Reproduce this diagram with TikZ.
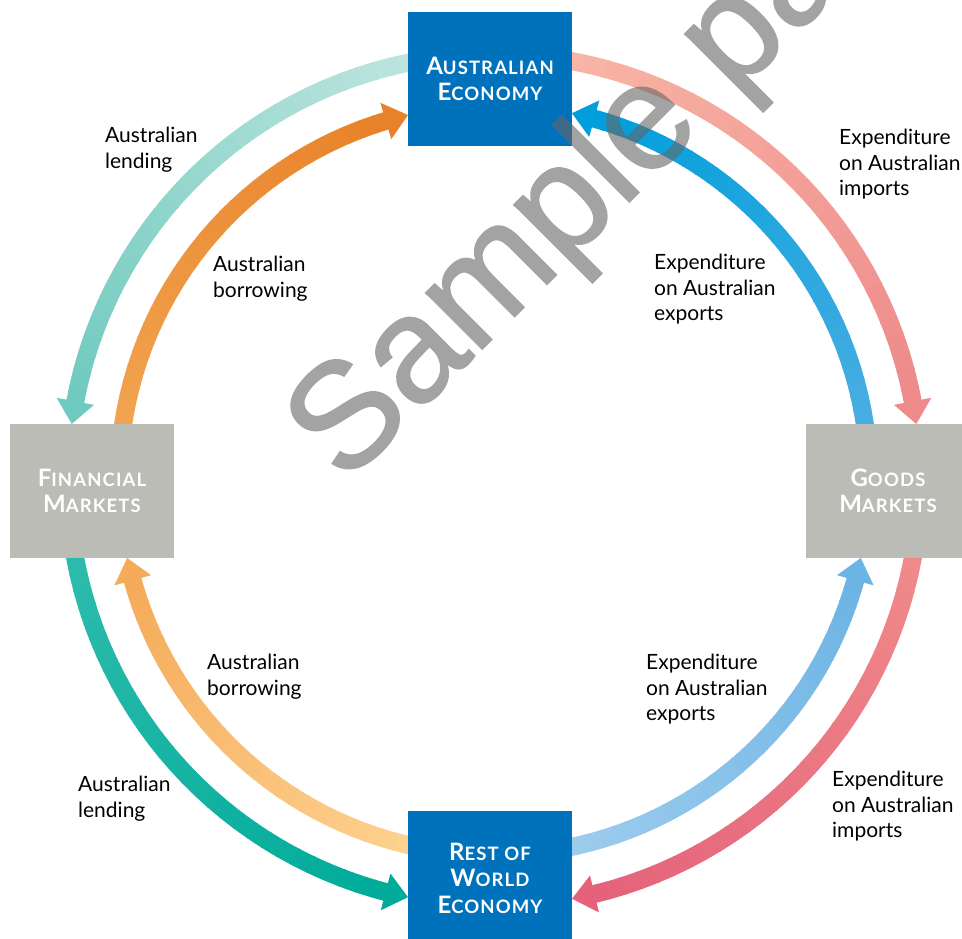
\documentclass[tikz,border=0pt]{standalone}
\usepackage{fontspec}
\setmainfont{Lato}
\newfontfamily\wmfont[FakeBold=1.2]{Liberation Sans}
\usetikzlibrary{calc}
\definecolor{boxblue}{HTML}{0072BC}
\definecolor{boxgray}{HTML}{BBBCB6}
\definecolor{ca1}{HTML}{BFE5DF}\definecolor{ca2}{HTML}{6FCABF}
\definecolor{cb1}{HTML}{F2A450}\definecolor{cb2}{HTML}{E8822A}
\definecolor{cc1}{HTML}{F8B6A6}\definecolor{cc2}{HTML}{EE8A8A}
\definecolor{cd1}{HTML}{4BAEE2}\definecolor{cd2}{HTML}{009FDB}
\definecolor{ce1}{HTML}{2EBCAC}\definecolor{ce2}{HTML}{00AB9A}
\definecolor{cf1}{HTML}{FDD290}\definecolor{cf2}{HTML}{F5AB5A}
\definecolor{cg1}{HTML}{EF8B8B}\definecolor{cg2}{HTML}{E5627A}
\definecolor{ch1}{HTML}{9ECCEE}\definecolor{ch2}{HTML}{6CB4E4}
\definecolor{wmgray}{HTML}{666666}
\newcommand{\sct}[2]{{\fontsize{24}{26.5}\selectfont #1}{\fontsize{18.5}{26.5}\selectfont #2}}
% #1 start angle, #2 end angle, #3 radius, #4 start colour, #5 end colour
\newcommand{\flowarc}[5]{%
  \pgfmathsetmacro\fdir{sign(#2-#1)}%
  \pgfmathsetmacro\fhd{23/#3*180/pi}%
  \pgfmathsetmacro\fse{#2-\fdir*(\fhd-0.4)}%
  \foreach \i in {1,...,30}{%
    \pgfmathsetmacro\faa{#1+(\fse-#1)*(\i-1)/30}%
    \pgfmathsetmacro\fbb{#1+(\fse-#1)*\i/30+\fdir*0.25}%
    \pgfmathsetmacro\fpp{100-100*(\i-1)/29}%
    \draw[flowline, draw=#4!\fpp!#5] (O) ++(\faa:#3) arc[start angle=\faa, end angle=\fbb, radius=#3];
  }%
  \pgfmathsetmacro\fhb{#2-\fdir*\fhd}%
  \pgfmathsetmacro\fro{#3+19}%
  \pgfmathsetmacro\fri{#3-19}%
  \fill[#5] ($(O)+(#2:#3)$) -- ($(O)+(\fhb:\fro)$) -- ($(O)+(\fhb:\fri)$) -- cycle;
}
\tikzset{
  flowline/.style={line width=18pt, line cap=butt},
  boxbase/.style={text=white, minimum width=164pt, minimum height=134pt, inner sep=0pt, align=center,
    font=\bfseries\addfontfeature{LetterSpace=6}\fontsize{24}{26.5}\selectfont},
  bluebox/.style={boxbase, fill=boxblue},
  graybox/.style={boxbase, fill=boxgray},
  lbl/.style={anchor=north west, inner sep=0pt, align=left, font=\fontsize{21}{25.5}\selectfont, text=black},
}
\begin{document}
\begin{tikzpicture}[x=1pt, y=1pt]
\useasboundingbox (0,0) rectangle (962,938);
\clip (0,0) rectangle (962,938);
\coordinate (O) at (494,458);
% flows
\flowarc{99}{172.45}{426}{ca1}{ca2}
\flowarc{174}{103.26}{375}{cb1}{cb2}
\flowarc{82}{7.55}{426}{cc1}{cc2}
\flowarc{6}{78}{375}{cd1}{cd2}
\flowarc{188}{258.35}{426}{ce1}{ce2}
\flowarc{259}{192}{375}{cf1}{cf2}
\flowarc{-8}{-79.45}{426}{cg1}{cg2}
\flowarc{-80}{-12}{375}{ch1}{ch2}
% boxes
\node[bluebox] (ae) at (490,859) {\sct{A}{USTRALIAN}\\\sct{E}{CONOMY}};
\node[graybox] (fm) at (92,447) {\sct{F}{INANCIAL}\\\sct{M}{ARKETS}};
\node[graybox] (gm) at (888,447) {\sct{G}{OODS}\\\sct{M}{ARKETS}};
\node[bluebox] (rw) at (490,60) {\sct{R}{EST OF}\\\sct{W}{ORLD}\\\sct{E}{CONOMY}};
% labels
\node[lbl] (l1) at (105,811) {Australian\\lending};
\node[lbl] (l2) at (213,682) {Australian\\borrowing};
\node[lbl] (l3) at (839,809) {Expenditure\\on Australian\\imports};
\node[lbl] (l4) at (654,684) {Expenditure\\on Australian\\exports};
\node[lbl] (l5) at (207,284) {Australian\\borrowing};
\node[lbl] (l6) at (78,162) {Australian\\lending};
\node[lbl] (l7) at (646,284) {Expenditure\\on Australian\\exports};
\node[lbl] (l8) at (832,167) {Expenditure\\on Australian\\imports};
% watermark
\begin{scope}[transparency group, opacity=0.6]
\node[rotate=45, anchor=base west, inner sep=0pt, text=wmgray, font=\wmfont\fontsize{150}{150}\selectfont] (wm) at (345,452) {Sample page};
\end{scope}
\end{tikzpicture}
\end{document}
